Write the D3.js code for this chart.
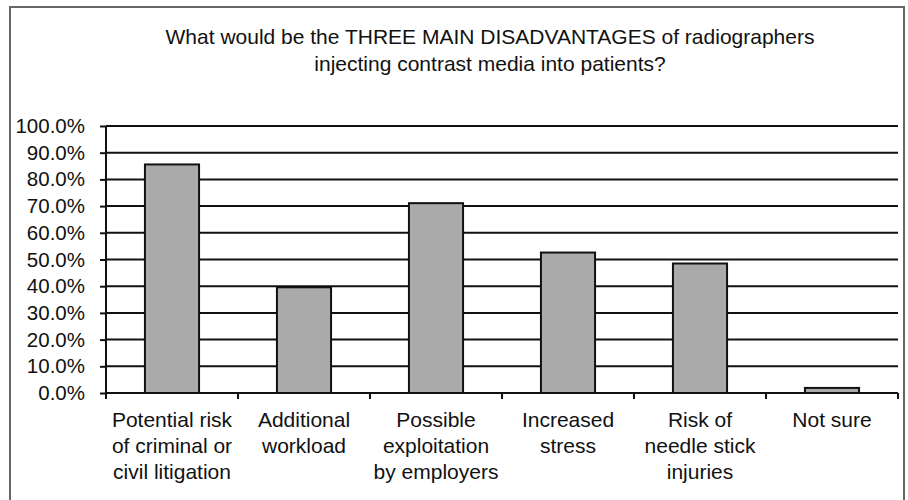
<!DOCTYPE html>
<html lang="en">
<head>
    <meta charset="UTF-8">
    <title>Disadvantages</title>
    <script src="https://d3js.org/d3.v7.min.js"></script>
    <style>
        body { margin: 0; background: #fff; }
        text { font-family: "Liberation Sans", Arial, sans-serif; fill: #111; }
    </style>
</head>
<body>
    <script>
        const categories = [
            ["Potential risk", "of criminal or", "civil litigation"],
            ["Additional", "workload"],
            ["Possible", "exploitation", "by employers"],
            ["Increased", "stress"],
            ["Risk of", "needle stick", "injuries"],
            ["Not sure"]
        ];
        const values = [85.6, 39.6, 71.1, 52.6, 48.5, 1.9];
        const yTicks = [0, 10, 20, 30, 40, 50, 60, 70, 80, 90, 100];
        const titleLines = [
            "What would be the THREE MAIN DISADVANTAGES of radiographers",
            "injecting contrast media into patients?"
        ];

        const width = 908, height = 500;
        const plot = { left: 106, right: 898, top: 126, bottom: 393 };

        const svg = d3.select("body").append("svg")
            .attr("width", width)
            .attr("height", height);

        // outer frame (bottom edge is cut off in the original)
        svg.append("rect")
            .attr("x", 10).attr("y", 7)
            .attr("width", 894).attr("height", 520)
            .attr("fill", "none")
            .attr("stroke", "#666")
            .attr("stroke-width", 2);

        const x = d3.scaleBand()
            .domain(d3.range(categories.length))
            .range([plot.left, plot.right])
            .paddingInner(0.59)
            .paddingOuter(0.295);

        const y = d3.scaleLinear()
            .domain([0, 100])
            .range([plot.bottom, plot.top]);

        // title
        svg.append("g").selectAll("text")
            .data(titleLines)
            .enter().append("text")
            .attr("x", 490)
            .attr("y", (d, i) => 44 + i * 27)
            .attr("text-anchor", "middle")
            .style("font-size", "21px")
            .text(d => d);

        // gridlines
        svg.append("g").selectAll("line")
            .data(yTicks.filter(d => d > 0))
            .enter().append("line")
            .attr("x1", plot.left).attr("x2", plot.right)
            .attr("y1", d => y(d)).attr("y2", d => y(d))
            .attr("stroke", "#111")
            .attr("stroke-width", 2);

        // bars
        svg.append("g").selectAll("rect")
            .data(values)
            .enter().append("rect")
            .attr("x", (d, i) => x(i))
            .attr("y", d => y(d))
            .attr("width", x.bandwidth())
            .attr("height", d => y(0) - y(d))
            .attr("fill", "#aaaaaa")
            .attr("stroke", "#111")
            .attr("stroke-width", 2);

        // y axis
        const yAxis = svg.append("g")
            .attr("transform", `translate(${plot.left},0)`)
            .call(d3.axisLeft(y).tickValues(yTicks).tickSize(6).tickPadding(15)
                .tickFormat(d => d.toFixed(1) + "%"));
        yAxis.selectAll("line, path").attr("stroke", "#111").attr("stroke-width", 2);
        yAxis.select("path").attr("d", `M0,${plot.top}V${plot.bottom}`);
        yAxis.selectAll("text")
            .style("font-size", "20.5px")
            .attr("fill", "#111");

        // x axis with ticks at category boundaries
        const bounds = d3.range(categories.length + 1).map(i => plot.left + i * x.step());
        svg.append("line")
            .attr("x1", plot.left).attr("x2", plot.right)
            .attr("y1", plot.bottom).attr("y2", plot.bottom)
            .attr("stroke", "#111").attr("stroke-width", 2);
        svg.append("g").selectAll("line")
            .data(bounds)
            .enter().append("line")
            .attr("x1", d => d).attr("x2", d => d)
            .attr("y1", plot.bottom).attr("y2", plot.bottom + 6)
            .attr("stroke", "#111").attr("stroke-width", 2);

        // category labels
        const labels = svg.append("g").selectAll("text")
            .data(categories)
            .enter().append("text")
            .attr("text-anchor", "middle")
            .style("font-size", "21px");
        labels.selectAll("tspan")
            .data((d, i) => d.map(t => ({ t, i })))
            .enter().append("tspan")
            .attr("x", d => x(d.i) + x.bandwidth() / 2)
            .attr("y", (d, j) => 427 + j * 26)
            .text(d => d.t);
    </script>
</body>
</html>
